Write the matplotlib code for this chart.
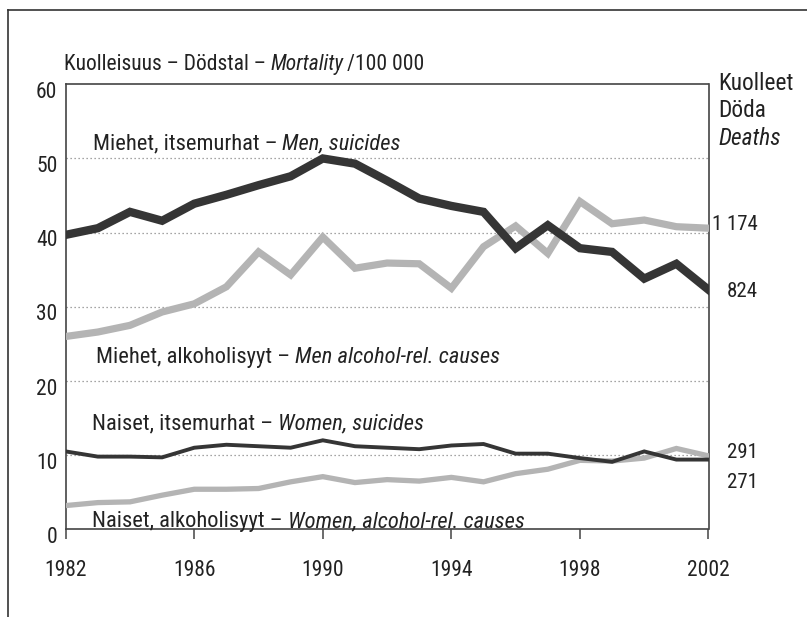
import matplotlib.pyplot as plt
import matplotlib.lines as mlines
from matplotlib.transforms import ScaledTranslation

plt.rcParams['font.family'] = ['Roboto Condensed', 'DejaVu Sans']

years = list(range(1982, 2003))
men_suicides = [39.7, 40.6, 42.8, 41.6, 43.9, 45.1, 46.4, 47.6, 50.0, 49.3, 47.0,
                44.6, 43.6, 42.8, 37.9, 41.0, 37.9, 37.4, 33.8, 35.8, 32.3]
men_alcohol = [26.0, 26.6, 27.5, 29.3, 30.4, 32.7, 37.4, 34.3, 39.4, 35.2, 35.9,
               35.8, 32.5, 38.1, 40.9, 37.2, 44.2, 41.2, 41.7, 40.8, 40.6]
women_suicides = [10.5, 9.8, 9.8, 9.7, 11.0, 11.4, 11.2, 11.0, 12.0, 11.2, 11.0,
                  10.8, 11.3, 11.5, 10.2, 10.2, 9.6, 9.1, 10.5, 9.4, 9.4]
women_alcohol = [3.2, 3.6, 3.7, 4.6, 5.4, 5.4, 5.5, 6.4, 7.1, 6.3, 6.7,
                 6.5, 7.0, 6.4, 7.5, 8.1, 9.3, 9.2, 9.6, 10.9, 9.9]

series_labels = [
    ('Miehet, itsemurhat – ', 'Men, suicides', 1982.84, 51.25),
    ('Miehet, alkoholisyyt – ', 'Men alcohol-rel. causes', 1982.93, 22.4),
    ('Naiset, itsemurhat – ', 'Women, suicides', 1982.82, 13.4),
    ('Naiset, alkoholisyyt – ', 'Women, alcohol-rel. causes', 1982.82, 0.3),
]
deaths_2002 = ['1 174', '824', '291', '271']

W, H = 807, 617
TXT = '#222222'
fig = plt.figure(figsize=(W / 100, H / 100), dpi=100)

def px(x, y):
    return x / W, 1 - y / H

# outer frame: left and top edges only
fig.add_artist(mlines.Line2D([8 / W, 8 / W], [0, 1 - 10 / H], color='#333333', lw=1.2))
fig.add_artist(mlines.Line2D([8 / W, 1], [1 - 10 / H, 1 - 10 / H], color='#333333', lw=1.2))

ax = fig.add_axes([65.7 / W, 1 - 529.3 / H, (708.5 - 65.7) / W, (529.3 - 84.3) / H])

dark = '#353535'
light = '#b4b4b4'
ax.plot(years, men_alcohol, color=light, lw=5.2, solid_joinstyle='miter', zorder=3)
ax.plot(years, men_suicides, color=dark, lw=6.0, solid_joinstyle='miter', zorder=4)
ax.plot(years, women_alcohol, color=light, lw=3.8, solid_joinstyle='miter', zorder=3)
ax.plot(years, women_suicides, color=dark, lw=2.8, solid_joinstyle='miter', zorder=4)

ax.set_xlim(1982, 2002)
ax.set_ylim(0, 60)
ax.set_xticks(range(1982, 2003, 4))
ax.set_yticks(range(0, 61, 10))
for y in range(10, 60, 10):
    ax.axhline(y, color='#888888', lw=0.9, linestyle=(0, (1, 2.2)), zorder=1)

for s in ax.spines.values():
    s.set_color('#444444')
    s.set_linewidth(1.2)

ax.tick_params(axis='x', direction='out', length=7, width=1.1, color='#444444',
               pad=15, labelsize=15.5, labelcolor=TXT)
ax.tick_params(axis='y', length=0, pad=6, labelsize=15.5, labelcolor=TXT)
for lab in ax.get_yticklabels():
    lab.set_transform(lab.get_transform() + ScaledTranslation(0, -4 / 72, fig.dpi_scale_trans))

# series labels inside the plot
for plain, ital, x, y in series_labels:
    t = ax.text(x, y, plain, fontsize=16.2, color=TXT, va='baseline', ha='left', zorder=5)
    fig.canvas.draw()
    bb = t.get_window_extent()
    x2 = ax.transData.inverted().transform((bb.x1, 0))[0]
    ax.text(x2, y, ital, fontsize=16.2, style='italic', color=TXT,
            va='baseline', ha='left', zorder=5)

# title above plot
fx, fy = px(64, 70)
t = fig.text(fx, fy, 'Kuolleisuus – Dödstal – ', fontsize=15.5, color=TXT, va='baseline')
fig.canvas.draw()
bb = t.get_window_extent()
t2 = fig.text(bb.x1 / W, fy, 'Mortality', fontsize=15.5, style='italic', color=TXT, va='baseline')
fig.canvas.draw()
bb2 = t2.get_window_extent()
fig.text(bb2.x1 / W + 3 / W, fy, '/100 000', fontsize=15.5, color=TXT, va='baseline')

# right-side heading
for txt, yy, st in [('Kuolleet', 90, 'normal'), ('Döda', 117, 'normal'), ('Deaths', 145, 'italic')]:
    fx, fy = px(718, yy)
    fig.text(fx, fy, txt, fontsize=16.8, style=st, color=TXT, va='baseline')

# deaths in 2002
label_y = [230, 297, 458, 488]
for txt, yy in zip(deaths_2002, label_y):
    fx, fy = px(758, yy)
    fig.text(fx, fy, txt, fontsize=15, color=TXT, va='baseline', ha='right')

fig.savefig('out.png', dpi=100, facecolor='white')
